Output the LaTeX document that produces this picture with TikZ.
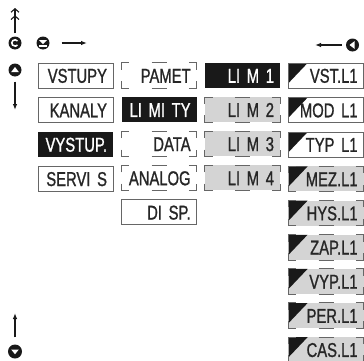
\documentclass[tikz,border=0pt]{standalone}
\usepackage{fontspec}
\newfontfamily\menufont{Liberation Sans}[FakeStretch=0.74, FakeBold=1]
\usepackage{tikz}
\usetikzlibrary{positioning, arrows.meta, calc}

\begin{document}
\begin{tikzpicture}[
    x=1pt, y=1pt,
    node distance=8.75pt and 8pt,
    >={Latex[length=6pt,width=4.5pt]},
    menu/.style={rectangle, minimum height=25pt, text width=63pt,
                 inner xsep=6pt, inner ysep=0pt, align=right,
                 text height=14.5pt, text depth=0pt, text=black!85,
                 font=\menufont\fontsize{20pt}{20pt}\selectfont},
    plain/.style={menu, draw=black!60, line width=0.8pt, fill=white},
    active/.style={menu, fill=black!90, text=white},
    seg/.style={menu, fill=white},
    segfill/.style={menu, fill=black!17},
    flag/.style={path picture={\fill[black!90] (path picture bounding box.north west)
                 -- ++(19pt,0) -- ++(-19pt,-20pt) -- cycle;}},
    segline/.style={draw=black!60, line width=0.8pt},
    key/.style={circle, fill=black!90, minimum size=13pt, inner sep=0pt},
    arrow/.style={->, line width=1.1pt, black!90},
]
\useasboundingbox (0,0) rectangle (364,360);

% Column 1: main menu
\node[plain] (vstupy) at (75.5,284.5) {VSTUPY};
\node[plain, below=of vstupy] (kanaly) {KANALY};
\node[active, below=of kanaly] (vystup) {VYSTUP.};
\node[plain, below=of vystup] (servis) {SERVI S};

% Column 2: submenu
\node[seg, right=of vstupy] (pamet) {PAMET};
\node[active, below=of pamet] (limity) {LI MI TY};
\node[seg, below=of limity] (data) {DATA};
\node[seg, below=of data] (analog) {ANALOG};
\node[plain, below=of analog] (disp) {DI SP.};

% Column 3: limits
\node[active, right=of pamet] (lim1) {LI M 1};
\node[segfill, below=of lim1] (lim2) {LI M 2};
\node[segfill, below=of lim2] (lim3) {LI M 3};
\node[segfill, below=of lim3] (lim4) {LI M 4};

% Column 4: parameters of limit 1
\node[plain, flag, right=of lim1] (vst) {VST.L1};
\node[plain, flag, below=of vst] (mod) {MOD L1};
\node[plain, flag, below=of mod] (typ) {TYP L1};
\node[segfill, flag, below=of typ] (mez) {MEZ.L1};
\node[segfill, flag, below=of mez] (hys) {HYS.L1};
\node[segfill, flag, below=of hys] (zap) {ZAP.L1};
\node[segfill, flag, below=of zap] (vyp) {VYP.L1};
\node[segfill, flag, below=of vyp] (per) {PER.L1};
\node[segfill, flag, below=of per] (cas) {CAS.L1};

% Segmented frames
\foreach \n in {pamet,data,analog,lim2,lim3,lim4,mez,hys,zap,vyp,per,cas} {
  \draw[segline] ([yshift=-7pt]\n.north west) |- ([xshift=8pt]\n.north west);
  \draw[segline] ([xshift=-8pt]\n.north east) -| ([yshift=-7pt]\n.north east);
  \draw[segline] ([yshift=7pt]\n.south west) |- ([xshift=8pt]\n.south west);
  \draw[segline] ([xshift=-8pt]\n.south east) -| ([yshift=7pt]\n.south east);
  \draw[segline] ($(\n.north west)!0.4!(\n.north east)$) -- ($(\n.north west)!0.6!(\n.north east)$);
  \draw[segline] ($(\n.south west)!0.4!(\n.south east)$) -- ($(\n.south west)!0.6!(\n.south east)$);
}

% Keys
\node[key, path picture={\draw[white, line width=1.6pt] (path picture bounding box.center)
      ++(40:3.2pt) arc[start angle=40, end angle=320, radius=3.2pt];}] (esc) at (15,317) {};
\node[key, path picture={\fill[white] (path picture bounding box.center)
      +(-3.8pt,2.8pt) -- +(3.8pt,2.8pt) -- +(0,-1pt) -- cycle;
      \fill[white] ([shift={(-3.8pt,-2.2pt)}]path picture bounding box.center) rectangle ++(7.6pt,-1.4pt);}] (enter) at (43,317) {};
\node[key, path picture={\fill[white] (path picture bounding box.center)
      +(-3.8pt,-2pt) -- +(3.8pt,-2pt) -- +(0,3pt) -- cycle;}] (up) at (15,290) {};
\node[key, path picture={\fill[white] (path picture bounding box.center)
      +(2pt,-3.8pt) -- +(2pt,3.8pt) -- +(-3pt,0) -- cycle;}] (left) at (352.5,315) {};
\node[key, minimum size=14pt, path picture={\fill[white] (path picture bounding box.center)
      +(-3.8pt,2pt) -- +(3.8pt,2pt) -- +(0,-2.8pt) -- cycle;}] (down) at (15,8.5) {};

\coordinate (topend) at (15,352);
\coordinate (upend) at (15,250);
\coordinate (rightend) at (87,317);
\coordinate (leftend) at (315,315);
\coordinate (downend) at (15,47);

% Key arrows
\draw[line width=1.1pt, black!90,
      -{Straight Barb[length=3.5pt,width=8pt,sep=2.5pt]Straight Barb[length=3.5pt,width=8pt]},
      shorten <=3pt] (esc) -- (topend);
\draw[arrow, shorten <=5pt] (up) -- (upend);
\draw[arrow, shorten <=12pt] (enter) -- (rightend);
\draw[arrow, shorten <=4pt] (left) -- (leftend);
\draw[arrow, shorten <=7pt] (down) -- (downend);

\end{tikzpicture}
\end{document}
